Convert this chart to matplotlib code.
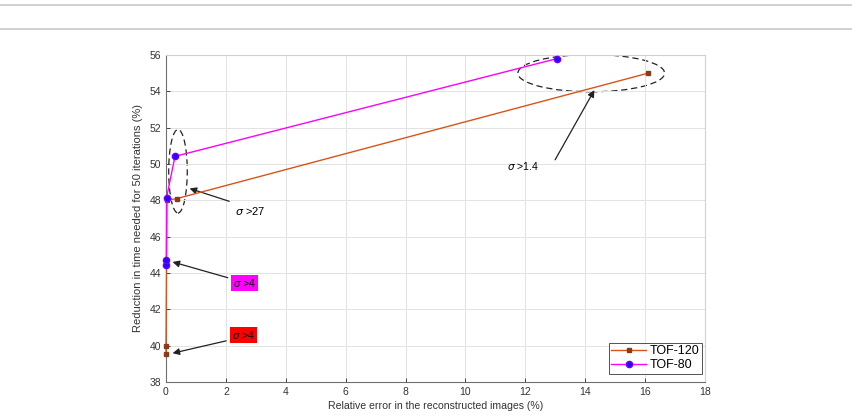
import numpy as np
import matplotlib.pyplot as plt
from matplotlib.patches import Ellipse
from matplotlib.lines import Line2D

plt.rcParams['font.family'] = ['Liberation Sans', 'DejaVu Sans']

# TOF-120 series
tof120_x = [0.0, 0.0, 0.03, 0.37, 16.1]
tof120_y = [39.55, 40.0, 48.0, 48.1, 55.0]

# TOF-80 series
tof80_x = [0.01, 0.01, 0.02, 0.3, 13.05]
tof80_y = [44.45, 44.7, 48.15, 50.42, 55.8]

xticks = np.arange(0, 19, 2)
yticks = np.arange(38, 57, 2)

fig = plt.figure(figsize=(8.53, 4.16), dpi=100)
# page rules at the top
fig.add_artist(Line2D([0, 1], [1 - 5 / 416, 1 - 5 / 416], color='#c8c8c8', lw=1.2))
fig.add_artist(Line2D([0, 1], [1 - 29 / 416, 1 - 29 / 416], color='#c8c8c8', lw=1.2))

ax = fig.add_axes([166 / 853, 1 - 382 / 416, (705 - 166) / 853, (382 - 55) / 416])

ax.plot(tof120_x, tof120_y, color='#D95319', lw=1.0, marker='s', ms=3.5,
        mfc='#8B3A1A', mec='#8B3A1A', label='TOF-120', clip_on=False, zorder=4)
ax.plot(tof80_x, tof80_y, color='#FF00FF', lw=1.0, marker='o', ms=4.5,
        mfc='#2a00ff', mec='#6a00ff', label='TOF-80', clip_on=False, zorder=4)

ax.set_xlim(0, 18)
ax.set_ylim(38, 56)
ax.set_xticks(xticks)
ax.set_yticks(yticks)
ax.tick_params(labelsize=7.5, direction='in', length=3, width=0.7, color='#404040',
               labelcolor='#333333')
ax.grid(True, color='#e3e3e3', lw=0.7)
ax.spines['left'].set_color('#707070')
ax.spines['bottom'].set_color('#707070')
ax.spines['top'].set_color('#d0d0d0')
ax.spines['right'].set_color('#d0d0d0')
for s in ax.spines.values():
    s.set_linewidth(0.8)

ax.set_xlabel('Relative error in the reconstructed images (%)', fontsize=7.6, color='#333333', labelpad=3)
ax.set_ylabel('Reduction in time needed for 50 iterations (%)', fontsize=8, color='#333333', labelpad=5)

# dashed ellipses
ax.add_patch(Ellipse((0.4, 49.6), 0.62, 4.6, fill=False, ls=(0, (5, 3)), lw=0.9, color='#222222'))
ax.add_patch(Ellipse((14.2, 55.0), 4.9, 2.05, fill=False, ls=(0, (5, 3)), lw=0.9, color='#222222'))

arrow = dict(arrowstyle='-|>', color='#222222', lw=0.9, mutation_scale=10)
ax.annotate('', xy=(0.7, 48.7), xytext=(2.2, 47.9), arrowprops=arrow)
ax.text(2.3, 47.4, r'$\sigma$ >27', fontsize=8, ha='left', va='center')

ax.annotate('', xy=(14.35, 54.2), xytext=(12.95, 50.1), arrowprops=arrow)
ax.text(12.45, 49.9, r'$\sigma$ >1.4', fontsize=7.5, ha='right', va='center')

ax.annotate('', xy=(0.13, 44.65), xytext=(2.15, 43.7), arrowprops=arrow)
ax.text(2.25, 43.45, r'$\sigma$ >4', fontsize=7.5, ha='left', va='center',
        bbox=dict(boxstyle='square,pad=0.2', fc='#ff00ff', ec='none'))

ax.annotate('', xy=(0.13, 39.55), xytext=(2.1, 40.3), arrowprops=arrow)
ax.text(2.2, 40.6, r'$\sigma$ >4', fontsize=7.5, ha='left', va='center',
        bbox=dict(boxstyle='square,pad=0.2', fc='#ff0000', ec='none'))

leg = ax.legend(loc='lower right', bbox_to_anchor=(0.995, 0.025), fontsize=9,
                frameon=True, fancybox=False, borderpad=0.2, handlelength=2.8,
                handletextpad=0.3, labelspacing=0.15, borderaxespad=0.0)
leg.get_frame().set_edgecolor('#262626')
leg.get_frame().set_linewidth(0.7)

fig.savefig('out.png', dpi=100)
